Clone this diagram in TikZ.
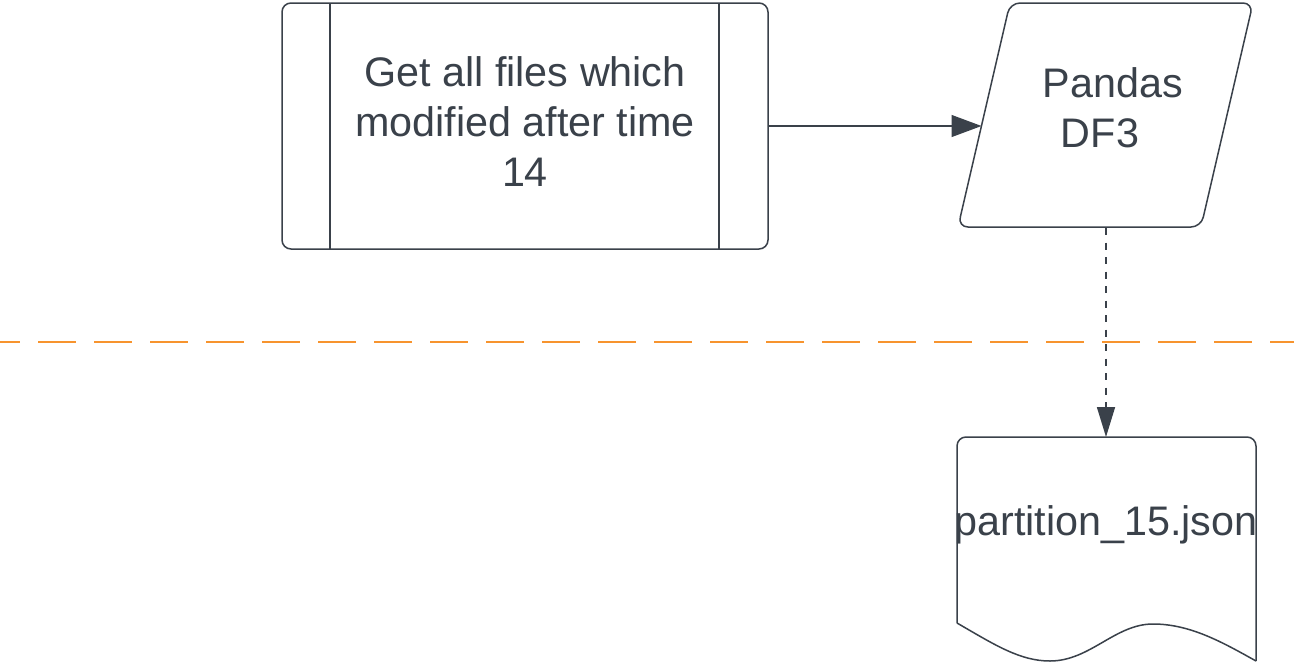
\documentclass[tikz,border=0pt]{standalone}
\usepackage{fontspec}
\setmainfont{Liberation Sans}
\usetikzlibrary{arrows.meta}
\definecolor{ink}{HTML}{3A414A}
\definecolor{orng}{RGB}{247,148,46}
\begin{document}
\begin{tikzpicture}[x=1pt,y=-1pt,
  shp/.style={draw=ink,line width=1.5pt,fill=white},
  lbl/.style={text=ink,font=\fontsize{41.3}{50}\selectfont,align=center,inner sep=0pt},
  conn/.style={draw=ink,line width=1.3pt,-{Triangle[length=30pt,width=22pt]}}]
\useasboundingbox (0,0) rectangle (1294,662);
\fill[white] (0,0) rectangle (1294,662);
% predefined process box
\node[shp,rounded corners=9pt,minimum width=486pt,minimum height=246pt,inner sep=0pt] (proc) at (525,126) {};
\draw[ink,line width=1.5pt] (330,3.5) -- (330,248.5);
\draw[ink,line width=1.5pt] (719,3.5) -- (719,248.5);
\node[lbl] (proct) at (525,122) {Get all files which\\modified after time\\14};
% parallelogram
\draw[shp,rounded corners=10pt] (1010,3) -- (1253,3) -- (1201,227) -- (958,227) -- cycle;
\coordinate (parL) at (981.5,126);
\coordinate (parB) at (1106,228);
\node[lbl] (pt1) at (1113,83) {Pandas};
\node[lbl] (pt2) at (1100,133) {DF3};
% document
\draw[shp,rounded corners=9pt] (957,623) -- (957,437) -- (1256,437) -- (1256,661);
\draw[shp] (957,623) .. controls (995,645) and (1020,661) .. (1050,661) .. controls (1090,661) and (1115,624) .. (1153,624) .. controls (1190,624) and (1222,642) .. (1256,661);
\coordinate (docT) at (1106,437);
\node[lbl] (doct) at (1106,525) {partition\_15.json};
% connectors
\draw[conn] (proc.east) -- (parL);
\draw[conn,line width=1.6pt,dash pattern=on 7pt off 7.5pt,-{Triangle[length=30pt,width=18pt]}] (parB) -- (docT);
% separator
\draw[orng,line width=2.2pt,dash pattern=on 38pt off 18pt,dash phase=18pt] (0,342) -- (1294,342);
\end{tikzpicture}
\end{document}
